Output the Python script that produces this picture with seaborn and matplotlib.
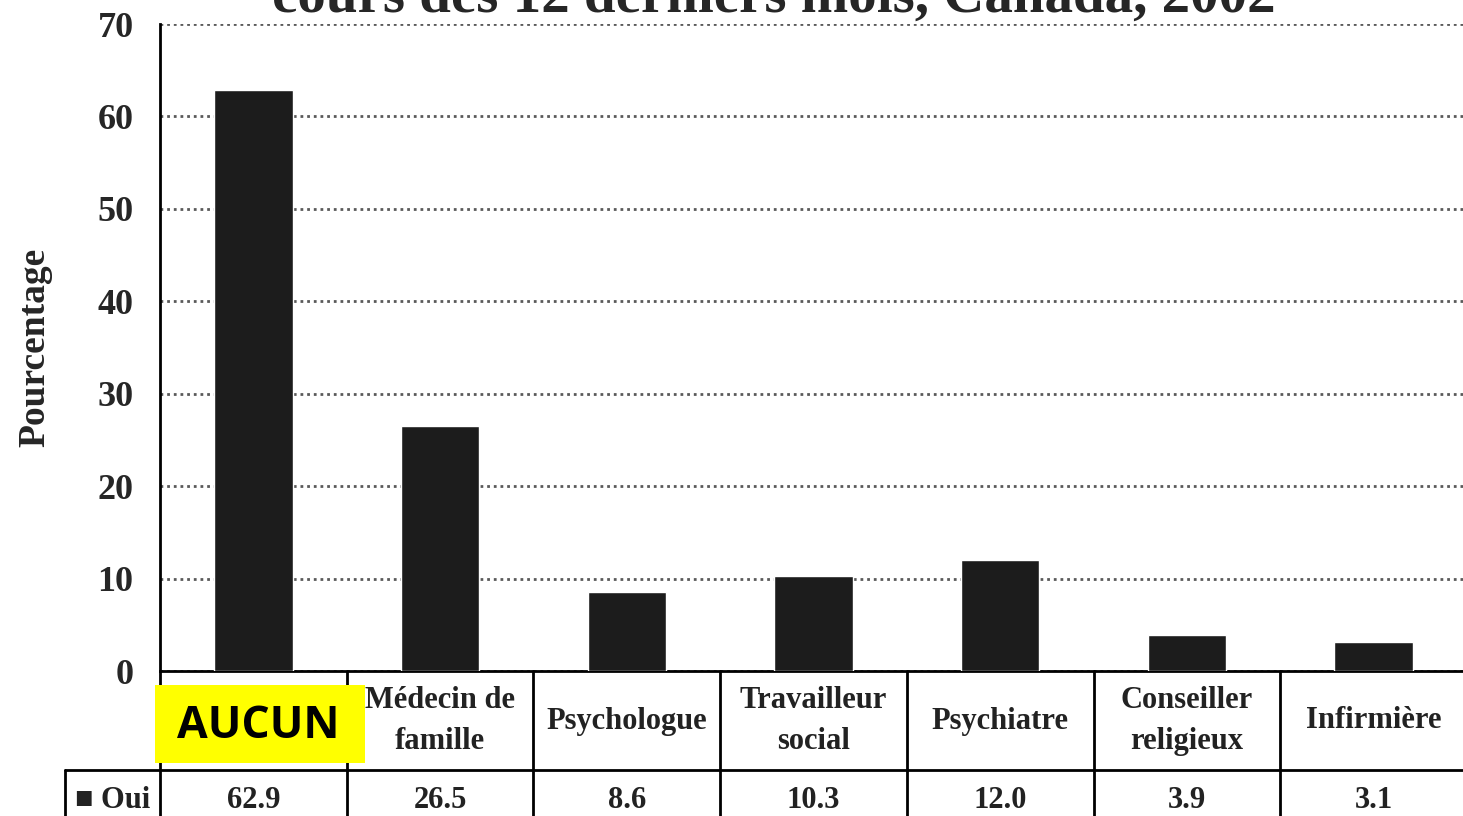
import matplotlib
matplotlib.use("Agg")
import matplotlib.pyplot as plt
import matplotlib.transforms as mtransforms
from matplotlib.lines import Line2D
from matplotlib.patches import Rectangle
import seaborn as sns

categories = ["AUCUN", "Médecin de\nfamille", "Psychologue", "Travailleur\nsocial",
              "Psychiatre", "Conseiller\nreligieux", "Infirmière"]
oui = [62.9, 26.5, 8.6, 10.3, 12.0, 3.9, 3.1]
value_labels = ["62.9", "26.5", "8.6", "10.3", "12.0", "3.9", "3.1"]
series_name = "Oui"
title = "cours des 12 derniers mois, Canada, 2002"
ylabel = "Pourcentage"

W, H = 1463, 816
SERIF = ["Liberation Serif", "DejaVu Serif"]

sns.set_style("white")
plt.rcParams["font.family"] = SERIF

fig = plt.figure(figsize=(W / 100, H / 100), dpi=100)
ax = fig.add_axes([160 / W, 145 / H, 1307 / W, 647 / H])

sns.barplot(x=list(range(len(oui))), y=oui, color="#1c1c1c", saturation=1,
            width=0.42, ax=ax, zorder=3)
ax.set_xlim(-0.5, len(oui) - 0.5)
ax.set_ylim(0, 70)
ax.set_yticks(range(0, 71, 10))
ax.set_xticks([])
ax.set_xlabel("")
ax.yaxis.grid(True, linestyle=(0, (1, 1.4)), color="#5a5a5a", lw=2)
ax.set_axisbelow(True)
for s in ["top", "right"]:
    ax.spines[s].set_visible(False)
for s in ["left", "bottom"]:
    ax.spines[s].set_color("black")
    ax.spines[s].set_linewidth(2)
ax.tick_params(axis="y", direction="out", length=9, width=2, color="black",
               labelsize=26, pad=10)
for lab in ax.get_yticklabels():
    lab.set_fontweight("bold")
ax.set_ylabel(ylabel, fontsize=27, fontweight="bold")
ax.yaxis.set_label_coords(-108 / 1307, 0.5)

# title (second line, cut by top of image)
fig.text(774 / W, 1 - 12 / H, title, ha="center", va="baseline",
         fontsize=41, fontweight="bold")

# data table below the axis
blend = mtransforms.blended_transform_factory(ax.transData, fig.transFigure)
row_line = 46 / H
top = 145 / H
for i in range(len(oui) + 1):
    fig.add_artist(Line2D([i - 0.5, i - 0.5], [0, top], transform=blend,
                          color="black", lw=2))
fig.add_artist(Line2D([65 / W, 1], [row_line, row_line],
                      transform=fig.transFigure, color="black", lw=2))
fig.add_artist(Line2D([65 / W, 65 / W], [0, row_line],
                      transform=fig.transFigure, color="black", lw=2))

for i, (cat, val) in enumerate(zip(categories, value_labels)):
    if i > 0:
        fig.text(i, 1 - 721 / H, cat, transform=blend, ha="center",
                 va="center", fontsize=22, fontweight="bold",
                 linespacing=1.55, color="#222222")
    fig.text(i, 1 - 800 / H, val, transform=blend, ha="center", va="center",
             fontsize=22, fontweight="bold", color="#222222")

fig.text(75 / W, 1 - 800 / H, "■ " + series_name, ha="left", va="center",
         fontsize=22, fontweight="bold", color="#222222",
         family=["Liberation Serif", "DejaVu Sans"])

# highlighted first category
fig.add_artist(Rectangle((155 / W, 1 - 763 / H), 210 / W, 78 / H,
                         transform=fig.transFigure, facecolor="#ffff00",
                         edgecolor="none", zorder=5))
fig.text(258 / W, 1 - 726 / H, categories[0], ha="center", va="center",
         fontsize=32, fontweight="bold", family=["Open Sans", "DejaVu Sans"],
         color="black", zorder=6)

fig.savefig("out.png", dpi=100, facecolor="white")
